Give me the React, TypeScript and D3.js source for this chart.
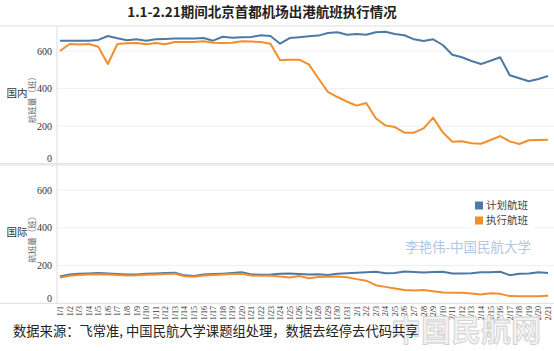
import React from "react";
import * as d3 from "d3";

const dates = [
  "1/1", "1/2", "1/3", "1/4", "1/5", "1/6", "1/7", "1/8", "1/9", "1/10",
  "1/11", "1/12", "1/13", "1/14", "1/15", "1/16", "1/17", "1/18", "1/19", "1/20",
  "1/21", "1/22", "1/23", "1/24", "1/25", "1/26", "1/27", "1/28", "1/29", "1/30",
  "1/31", "2/1", "2/2", "2/3", "2/4", "2/5", "2/6", "2/7", "2/8", "2/9",
  "2/10", "2/11", "2/12", "2/13", "2/14", "2/15", "2/16", "2/17", "2/18", "2/19",
  "2/20", "2/21",
];

// 国内
const domPlanned = [
  655, 655, 655, 655, 659, 680, 668, 657, 662, 655,
  662, 664, 666, 666, 666, 669, 655, 676, 671, 673,
  675, 684, 680, 639, 669, 673, 678, 682, 696, 700,
  687, 691, 687, 700, 703, 691, 684, 662, 653, 662,
  632, 580, 567, 547, 531, 548, 567, 471, 455, 439,
  451, 467,
];
const domActual = [
  600, 637, 634, 637, 623, 531, 637, 641, 643, 636,
  643, 636, 648, 648, 648, 652, 644, 643, 644, 652,
  650, 648, 639, 551, 554, 554, 529, 455, 382, 355,
  330, 309, 323, 242, 204, 195, 165, 165, 188, 245,
  167, 117, 119, 109, 106, 126, 147, 119, 105, 125,
  126, 128,
];

// 国际
const intPlanned = [
  142, 152, 156, 158, 160, 158, 155, 152, 153, 156,
  158, 160, 162, 148, 144, 152, 155, 157, 160, 164,
  153, 151, 152, 157, 158, 155, 152, 154, 150, 157,
  159, 162, 164, 167, 159, 160, 168, 166, 163, 166,
  167, 158, 158, 159, 165, 165, 167, 149, 156, 158,
  165, 161,
];
const intActual = [
  136, 146, 150, 152, 154, 153, 150, 147, 148, 151,
  153, 155, 157, 143, 140, 147, 150, 152, 155, 157,
  147, 146, 146, 142, 137, 145, 133, 139, 141, 142,
  138, 128, 120, 96, 87, 78, 70, 68, 70, 64,
  57, 56, 56, 52, 46, 53, 50, 38, 37, 37,
  37, 40,
];

const yTicks = [0, 200, 400, 600];
const seriesNames = ["计划航班", "执行航班"];
const colors = ["#4e79a7", "#f28e2b"];

const W = 554;
const H = 351;
const serif = "'Liberation Serif', 'DejaVu Serif', 'Noto Sans CJK SC', serif";
const cjk = "'Noto Sans CJK SC', 'Liberation Serif', serif";

const x = d3.scalePoint<string>().domain(dates).range([60, 548]);

const panels = [
  { name: "国内", top: 26, y: d3.scaleLinear().domain([0, 600]).range([163.7, 51]), series: [domPlanned, domActual] },
  { name: "国际", top: 165, y: d3.scaleLinear().domain([0, 600]).range([303.3, 190]), series: [intPlanned, intActual] },
];

export default function App() {
  return (
    <div style={{ position: "absolute", left: 0, top: 0 }}>
      <svg width={W} height={H} style={{ display: "block", background: "#fff" }}>
        <text x={262} y={17} textAnchor="middle" fontFamily={cjk} fontWeight="bold" fontSize={13.5} fill="#222">
          1.1-2.21期间北京首都机场出港航班执行情况
        </text>

        {panels.map((p, pi) => {
          const y0 = p.y(0);
          const midY = (p.top + y0) / 2;
          return (
            <g key={pi}>
              <line x1={0} x2={W} y1={p.top} y2={p.top} stroke="#ddd" />
              {yTicks.filter((t) => t > 0).map((t) => (
                <line key={t} x1={57} x2={W} y1={p.y(t)} y2={p.y(t)} stroke="#f0f0f0" />
              ))}
              <line x1={0} x2={W} y1={y0} y2={y0} stroke="#ddd" />
              <line x1={57} x2={57} y1={p.top} y2={y0} stroke="#ddd" />
              {yTicks.map((t) => (
                <text
                  key={t}
                  x={52}
                  y={p.y(t) + (t === 0 ? -5 : 0)}
                  dy="0.35em"
                  textAnchor="end"
                  fontFamily={serif}
                  fontSize={10}
                  fill="#333"
                >
                  {t}
                </text>
              ))}
              <text x={17} y={midY - 2} dy="0.35em" textAnchor="middle" fontFamily={cjk} fontSize={10.5} fill="#333">
                {p.name}
              </text>
              <text
                transform={`translate(34.5,${midY + 3}) rotate(-90)`}
                textAnchor="middle"
                fontFamily={cjk}
                fontSize={8.5}
                fill="#666"
              >
                航班量（班）
              </text>
              {p.series.map((vals, si) => {
                const line = d3
                  .line<number>()
                  .x((_, i) => x(dates[i]) as number)
                  .y((v) => p.y(v));
                return (
                  <path key={si} d={line(vals) || ""} fill="none" stroke={colors[si]} strokeWidth={2} strokeLinejoin="round" />
                );
              })}
            </g>
          );
        })}

        {dates.map((d) => (
          <text
            key={d}
            transform={`translate(${(x(d) as number) + 3},306) rotate(-90)`}
            textAnchor="end"
            fontFamily={serif}
            fontSize={8}
            fill="#333"
          >
            {d}
          </text>
        ))}

        <rect x={471} y={197} width={62} height={32} fill="#fff" />
        {seriesNames.map((n, i) => (
          <g key={n} transform={`translate(475,${205.5 + i * 15})`}>
            <rect x={0} y={-4} width={8} height={8} fill={colors[i]} />
            <text x={11} y={0} dy="0.35em" fontFamily={cjk} fontSize={10.5} fill="#444">
              {n}
            </text>
          </g>
        ))}

        <text x={468} y={247} dy="0.35em" textAnchor="middle" fontFamily={cjk} fontSize={13.5} fill="#b3c6e6">
          李艳伟-中国民航大学
        </text>

        <text x={466} y={341} textAnchor="middle" fontFamily={cjk} fontWeight="bold" fontSize={30} fill="#f2f2f2" stroke="#cfcfcf" strokeWidth={0.8}>
          中国民航网
        </text>

        <text x={13} y={336} fontFamily={cjk} fontSize={13.3} fill="#222">
          数据来源：飞常准, 中国民航大学课题组处理，数据去经停去代码共享
        </text>
      </svg>
    </div>
  );
}
